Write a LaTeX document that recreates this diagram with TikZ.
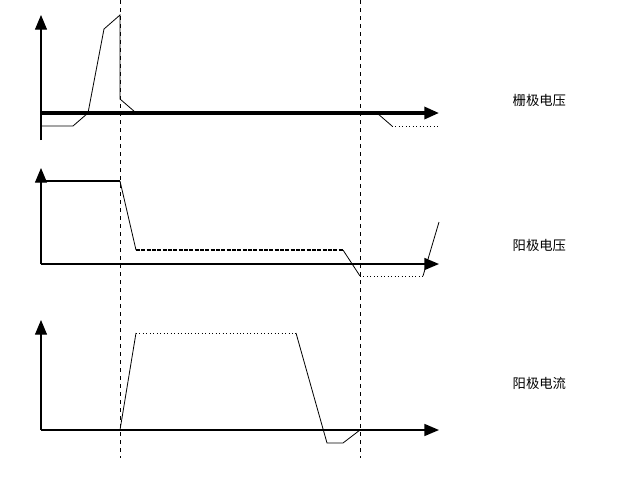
\documentclass[tikz,border=0pt]{standalone}
\usepackage{fontspec}
\newfontfamily\cjk{Noto Sans CJK SC}
\usetikzlibrary{arrows.meta}
\tikzset{
	axis/.style={-{Triangle[length=11pt,width=9pt]}},
	wave/.style={line width=0.6pt},
	label/.style={font=\cjk\fontsize{10}{12}\selectfont,anchor=west}
}
\begin{document}
\begin{tikzpicture}[x=0.75pt,y=-0.75pt]
	\useasboundingbox (0,0) rectangle (629,490);
	\path 
		(41,140) coordinate (A0) (41,15) coordinate (A1)
		(41,113) coordinate (B0) (439,113) coordinate (B1)
		(41,264) coordinate (C0) (41,168) coordinate (C1) (439,264) coordinate (C2)
		(41,430) coordinate (D0) (41,320) coordinate (D1) (439,430) coordinate (D2)
		(120,0) coordinate (T1) (120,458) coordinate (T1b)
		(360,0) coordinate (T2) (360,458) coordinate (T2b)
		;
	% axes
	\draw[axis,line width=0.8pt] (A0) -- (A1);
	\draw[axis,line width=2.4pt] (B0) -- (B1);
	\draw[axis,line width=0.8pt] (C0) -- (C1);
	\draw[axis,line width=1.2pt] (C0) -- (C2);
	\draw[axis,line width=0.8pt] (D0) -- (D1);
	\draw[axis,line width=1.2pt] (D0) -- (D2);
	% time marks
	\draw[dashed,line width=0.6pt] (T1) -- (T1b) (T2) -- (T2b);
	% grid voltage
	\draw[wave] (41,126) -- (73,126) -- (88,113) -- (104,29) -- (120,15) -- (120,99) -- (135,112);
	\draw[wave] (377,113) -- (392,126);
	\draw[wave,dotted] (392,126) -- (439,126);
	% anode voltage
	\draw[line width=1.8pt] (41,181) -- (120,181);
	\draw[wave] (120,181) -- (136,250);
	\draw[line width=1.2pt,dashed,dash pattern=on 3pt off 1pt] (136,250) -- (343,250);
	\draw[wave] (343,250) -- (360,276);
	\draw[wave,dotted] (360,276) -- (423,276);
	\draw[wave] (423,276) -- (439,222);
	% anode current
	\draw[wave] (120,430) -- (136,333);
	\draw[wave,dotted] (136,333) -- (296,333);
	\draw[wave] (296,333) -- (327,443) -- (343,443) -- (360,430);
	% labels
	\node[label] (Lg) at (508,100) {栅极电压};
	\node[label] (La) at (508,245) {阳极电压};
	\node[label] (Li) at (508,383) {阳极电流};
\end{tikzpicture}
\end{document}
